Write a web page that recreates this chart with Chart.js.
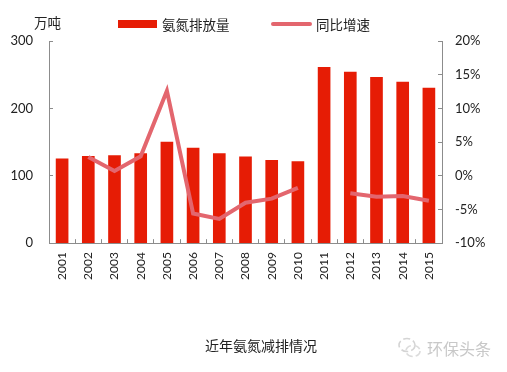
<!DOCTYPE html>
<html>
<head>
<meta charset="utf-8">
<script src="https://cdn.jsdelivr.net/npm/chart.js@4"></script>
<style>
  html, body { margin: 0; padding: 0; background: #fff; }
  #wrap { position: relative; width: 507px; height: 372px; overflow: hidden; font-family: "Noto Sans CJK SC", sans-serif; }
  .note { position: absolute; white-space: nowrap; color: #222; line-height: 20px; }
  .swatch { position: absolute; }
  #unit { left: 34px; top: 12px; font-size: 13.5px; }
  #legendBar { left: 118px; top: 20px; width: 39px; height: 8px; }
  #legendBarText { left: 162px; top: 14px; font-size: 13.5px; }
  #legendLine { left: 271px; top: 22px; width: 41px; height: 4px; border-radius: 2px; }
  #legendLineText { left: 316px; top: 14px; font-size: 13.5px; }
  #caption { left: 205px; top: 335px; font-size: 14px; }
  #mark { left: 427px; top: 338px; font-size: 16px; color: #c8c8c8; }
</style>
</head>
<body>
<div id="wrap">
  <canvas id="myChart" width="507" height="372"></canvas>
  <div class="note" id="unit">万吨</div>
  <div class="swatch" id="legendBar"></div>
  <div class="note" id="legendBarText">氨氮排放量</div>
  <div class="swatch" id="legendLine"></div>
  <div class="note" id="legendLineText">同比增速</div>
  <div class="note" id="caption">近年氨氮减排情况</div>
  <svg style="position:absolute;left:397px;top:336px" width="26" height="24" viewBox="0 0 26 24">
    <ellipse cx="10" cy="9" rx="8" ry="6.5" fill="none" stroke="#d4d4d4" stroke-width="1.6" stroke-dasharray="7 3"/>
    <ellipse cx="16" cy="15" rx="7" ry="5.5" fill="none" stroke="#dcdcdc" stroke-width="1.6" stroke-dasharray="7 3"/>
  </svg>
  <div class="note" id="mark">环保头条</div>
</div>
<script>
const years = ["2001","2002","2003","2004","2005","2006","2007","2008","2009","2010","2011","2012","2013","2014","2015"];
const emissions = [125,129,130,133,150,141,133,128,123,121,261,254,246,239,230];
const growth = [null,2.8,0.7,2.9,12.6,-5.6,-6.4,-4.0,-3.4,-1.8,null,-2.6,-3.1,-3.0,-3.7];
const leftTicks = [0,100,200,300];
const rightTicks = [-10,-5,0,5,10,15,20];

const BAR_RED = "#E61C05";
const LINE_RED = "#E3666E";
const AXIS_GREY = "#8c8c8c";
const TEXT = "#222";
const tickFont = { family: "Lato, sans-serif", size: 13 };

//Legend
document.getElementById("legendBar").style.background = BAR_RED;
document.getElementById("legendLine").style.background = LINE_RED;

const config = {
  type: "bar",
  data: {
    labels: years,
    datasets: [
      {
        type: "line",
        label: "同比增速",
        data: growth,
        yAxisID: "y1",
        borderColor: LINE_RED,
        backgroundColor: LINE_RED,
        borderWidth: 4,
        pointRadius: 0,
        spanGaps: false,
        order: 1,
      },
      {
        label: "氨氮排放量",
        data: emissions,
        yAxisID: "y",
        backgroundColor: BAR_RED,
        barThickness: 12,
        order: 2,
      },
    ],
  },
  options: {
    responsive: false,
    animation: false,
    layout: { padding: { top: 41, bottom: 79 } },
    plugins: {
      tooltip: { enabled: false },
      legend: { display: false },
    },
    scales: {
      x: {
        grid: { drawOnChartArea: false, offset: true, tickLength: -4, tickColor: AXIS_GREY },
        border: { color: AXIS_GREY, width: 1 },
        ticks: {
          color: TEXT,
          font: { family: "Lato, sans-serif", size: 12 },
          minRotation: 90,
          maxRotation: 90,
          padding: 13,
          autoSkip: false,
        },
      },
      y: {
        position: "left",
        min: 0,
        max: 300,
        afterBuildTicks: (axis) => { axis.ticks = leftTicks.map((v) => ({ value: v })); },
        afterFit: (axis) => { axis.width = 49; },
        grid: { drawOnChartArea: false, tickLength: -4, tickColor: AXIS_GREY },
        border: { color: AXIS_GREY, width: 1 },
        ticks: { color: TEXT, font: tickFont, padding: 20 },
      },
      y1: {
        position: "right",
        min: -10,
        max: 20,
        afterBuildTicks: (axis) => { axis.ticks = rightTicks.map((v) => ({ value: v })); },
        afterFit: (axis) => { axis.width = 65; },
        grid: { drawOnChartArea: false, tickLength: -4, tickColor: AXIS_GREY },
        border: { color: AXIS_GREY, width: 1 },
        ticks: { color: TEXT, font: tickFont, padding: 17, callback: (v) => v + "%" },
      },
    },
  },
};

new Chart(document.getElementById("myChart"), config);
</script>
</body>
</html>
